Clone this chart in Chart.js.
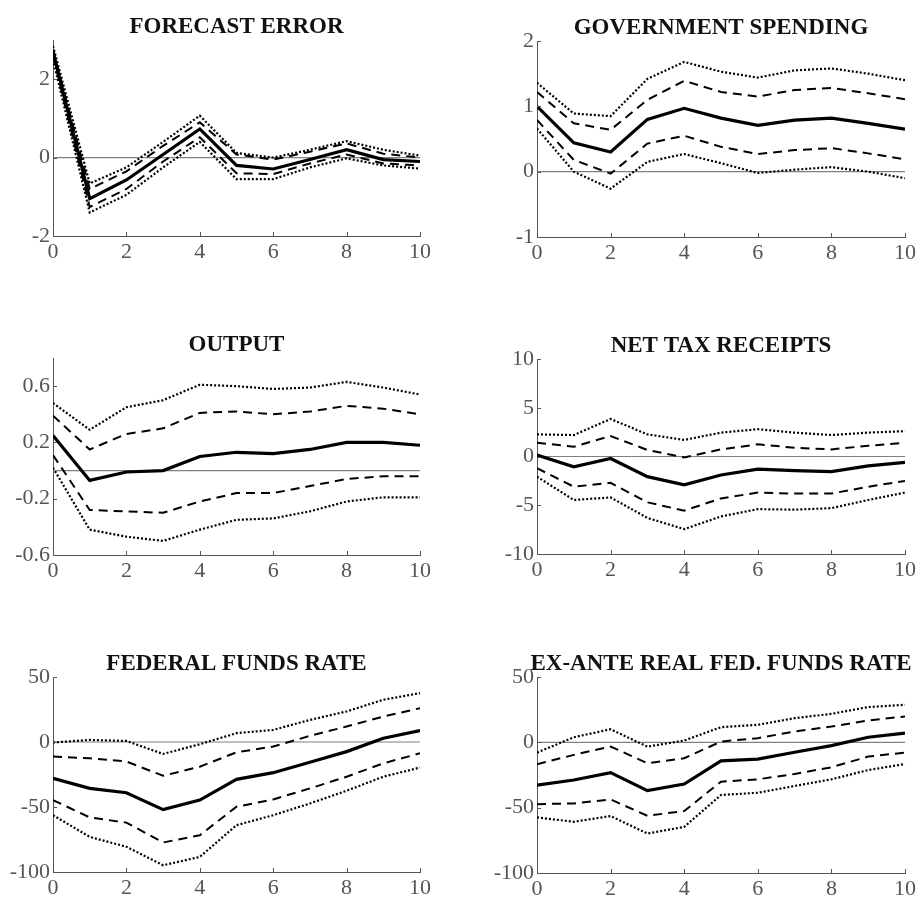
<!DOCTYPE html>
<html lang="en">

<head>
    <meta charset="UTF-8">
    <title>Impulse responses</title>
    <script src="https://cdn.jsdelivr.net/npm/chart.js"></script>
    <style>
        html, body { margin: 0; padding: 0; background: #fff; overflow: hidden; }
        .panel { position: absolute; }
    </style>
</head>

<body>
    <div class="panel" id="p1"><canvas id="c1"></canvas></div>
    <div class="panel" id="p2"><canvas id="c2"></canvas></div>
    <div class="panel" id="p3"><canvas id="c3"></canvas></div>
    <div class="panel" id="p4"><canvas id="c4"></canvas></div>
    <div class="panel" id="p5"><canvas id="c5"></canvas></div>
    <div class="panel" id="p6"><canvas id="c6"></canvas></div>
</body>
<script>

    // horizon (quarters)
    const HORIZON = [0, 1, 2, 3, 4, 5, 6, 7, 8, 9, 10];
    const X_TICKS = [0, 2, 4, 6, 8, 10];

    // forecast error
    const FE_MID = [2.7, -1.05, -0.57, 0.08, 0.73, -0.2, -0.29, -0.05, 0.2, -0.05, -0.1];
    const FE_HI = [2.75, -0.8, -0.35, 0.3, 0.9, 0.08, -0.05, 0.15, 0.36, 0.1, 0.0];
    const FE_LO = [2.6, -1.26, -0.8, -0.1, 0.52, -0.4, -0.42, -0.15, 0.08, -0.15, -0.2];
    const FE_HI2 = [2.85, -0.66, -0.25, 0.4, 1.07, 0.12, 0.0, 0.2, 0.42, 0.2, 0.05];
    const FE_LO2 = [2.5, -1.4, -0.95, -0.25, 0.4, -0.55, -0.55, -0.25, -0.02, -0.2, -0.28];

    // government spending
    const GS_MID = [1.0, 0.44, 0.3, 0.8, 0.97, 0.82, 0.71, 0.79, 0.82, 0.74, 0.65];
    const GS_HI = [1.22, 0.74, 0.64, 1.1, 1.39, 1.22, 1.15, 1.25, 1.28, 1.2, 1.11];
    const GS_LO = [0.79, 0.18, -0.03, 0.43, 0.55, 0.38, 0.27, 0.33, 0.36, 0.28, 0.19];
    const GS_HI2 = [1.36, 0.89, 0.85, 1.42, 1.68, 1.53, 1.44, 1.55, 1.58, 1.5, 1.4];
    const GS_LO2 = [0.66, 0.0, -0.26, 0.15, 0.27, 0.13, -0.02, 0.03, 0.07, 0.0, -0.1];

    // output
    const OUT_MID = [0.25, -0.07, -0.01, 0.0, 0.1, 0.13, 0.12, 0.15, 0.2, 0.2, 0.18];
    const OUT_HI = [0.39, 0.15, 0.26, 0.3, 0.41, 0.42, 0.4, 0.42, 0.46, 0.44, 0.4];
    const OUT_LO = [0.11, -0.28, -0.29, -0.3, -0.22, -0.16, -0.16, -0.11, -0.06, -0.04, -0.04];
    const OUT_HI2 = [0.48, 0.29, 0.45, 0.5, 0.61, 0.6, 0.58, 0.59, 0.63, 0.59, 0.54];
    const OUT_LO2 = [0.02, -0.42, -0.47, -0.5, -0.42, -0.35, -0.34, -0.29, -0.22, -0.19, -0.19];

    // net tax receipts
    const TAX_MID = [0.15, -1.05, -0.2, -2.07, -2.9, -1.9, -1.3, -1.45, -1.55, -0.97, -0.6];
    const TAX_HI = [1.42, 1.0, 2.1, 0.67, -0.1, 0.73, 1.25, 0.9, 0.73, 1.1, 1.42];
    const TAX_LO = [-1.2, -3.1, -2.7, -4.7, -5.55, -4.3, -3.7, -3.8, -3.8, -3.1, -2.5];
    const TAX_HI2 = [2.27, 2.2, 3.85, 2.27, 1.7, 2.45, 2.8, 2.45, 2.2, 2.45, 2.6];
    const TAX_LO2 = [-2.07, -4.46, -4.2, -6.3, -7.45, -6.15, -5.4, -5.45, -5.3, -4.46, -3.7];

    // federal funds rate
    const FFR_MID = [-28, -35.7, -39, -52, -44.7, -28.7, -23.6, -15.6, -7.4, 2.9, 8.8];
    const FFR_HI = [-11.2, -12.5, -15, -26, -19, -7.9, -3.5, 4.7, 11.9, 19.6, 26];
    const FFR_LO = [-44.7, -58, -62, -77.3, -71.7, -49.8, -44.2, -35.7, -26.7, -16.4, -8.7];
    const FFR_HI2 = [-0.4, 1.6, 0.8, -9.2, -1.7, 6.8, 9.3, 17, 23.5, 32.5, 37.6];
    const FFR_LO2 = [-56.3, -73, -80.6, -94.8, -88.4, -64, -56.3, -47.3, -37.5, -26.7, -19.7];

    // ex-ante real federal funds rate
    const RFF_MID = [-32.7, -28.8, -23.2, -37, -31.9, -14.2, -12.9, -7.6, -2.5, 3.9, 7];
    const RFF_HI = [-16.8, -9.6, -3.2, -16, -12.2, 0.6, 3.2, 8.3, 12.1, 16.7, 19.8];
    const RFF_LO = [-47.3, -46.8, -43.7, -56.2, -52.6, -30.1, -28.3, -24.2, -19.1, -10.9, -7.9];
    const RFF_HI2 = [-7.9, 3.9, 10, -3.3, 1.4, 11.6, 13.4, 18.5, 21.8, 27, 28.7];
    const RFF_LO2 = [-57.5, -60.8, -56.4, -69.8, -64.7, -40.3, -38.6, -33.4, -28.3, -21.2, -16.6];

    const TITLES = [
        'FORECAST ERROR',
        'GOVERNMENT SPENDING',
        'OUTPUT',
        'NET TAX RECEIPTS',
        'FEDERAL FUNDS RATE',
        'EX-ANTE REAL FED. FUNDS RATE'
    ];

    const Y_TICKS = [
        [-2, 0, 2],
        [-1, 0, 1, 2],
        [-0.6, -0.2, 0.2, 0.6],
        [-10, -5, 0, 5, 10],
        [-100, -50, 0, 50],
        [-100, -50, 0, 50]
    ];
    const Y_RANGE = [[-2, 3], [-1, 2], [-0.6, 0.8], [-10, 10], [-100, 50], [-100, 50]];

    const SERIES = [
        [FE_MID, FE_HI, FE_LO, FE_HI2, FE_LO2],
        [GS_MID, GS_HI, GS_LO, GS_HI2, GS_LO2],
        [OUT_MID, OUT_HI, OUT_LO, OUT_HI2, OUT_LO2],
        [TAX_MID, TAX_HI, TAX_LO, TAX_HI2, TAX_LO2],
        [FFR_MID, FFR_HI, FFR_LO, FFR_HI2, FFR_LO2],
        [RFF_MID, RFF_HI, RFF_LO, RFF_HI2, RFF_LO2]
    ];

    // plot boxes [left, top, right, bottom] in page pixels
    const BOXES = [
        [53, 40, 420, 236],
        [537, 41, 905, 237],
        [53, 358, 420, 555],
        [537, 359, 905, 554],
        [53, 677, 420, 872],
        [537, 677, 905, 873]
    ];

    const AXIS_W = 55, TOP_H = 45, BOTTOM_H = 32, RIGHT_PAD = 15;
    const GREY = '#555555';

    // solid, dashed, dotted
    const STYLES = [
        { width: 3.2, dash: [] },
        { width: 2, dash: [9, 6] },
        { width: 2, dash: [9, 6] },
        { width: 2.2, dash: [2, 2] },
        { width: 2.2, dash: [2, 2] }
    ];

    // zero line, inward ticks and title above the plot
    const matlabLook = {
        id: 'matlabLook',
        beforeDatasetsDraw(chart) {
            const { ctx, chartArea, scales } = chart;
            const y0 = scales.y.getPixelForValue(0);
            ctx.save();
            ctx.strokeStyle = '#808080';
            ctx.lineWidth = 1.2;
            ctx.beginPath();
            ctx.moveTo(chartArea.left, y0);
            ctx.lineTo(chartArea.right, y0);
            ctx.stroke();
            ctx.restore();
        },
        afterDraw(chart, args, opts) {
            const { ctx, chartArea, scales } = chart;
            ctx.save();
            ctx.strokeStyle = GREY;
            ctx.lineWidth = 1;
            ctx.beginPath();
            X_TICKS.forEach(v => {
                const px = Math.round(scales.x.getPixelForValue(v)) + 0.5;
                ctx.moveTo(px, chartArea.bottom);
                ctx.lineTo(px, chartArea.bottom - 4);
            });
            scales.y.ticks.forEach(t => {
                const py = Math.round(scales.y.getPixelForValue(t.value)) + 0.5;
                ctx.moveTo(chartArea.left, py);
                ctx.lineTo(chartArea.left + 4, py);
            });
            ctx.stroke();

            ctx.fillStyle = '#111';
            ctx.font = 'bold 23px "Liberation Serif", "Times New Roman", serif';
            ctx.textAlign = 'center';
            ctx.textBaseline = 'alphabetic';
            ctx.fillText(opts.text, (chartArea.left + chartArea.right) / 2, chartArea.top - 7);
            ctx.restore();
        }
    };

    function makePanel(i) {
        const [l, t, r, b] = BOXES[i];
        const w = (r - l) + AXIS_W + RIGHT_PAD;
        const h = (b - t) + TOP_H + BOTTOM_H;
        const div = document.getElementById('p' + (i + 1));
        div.style.left = (l - AXIS_W) + 'px';
        div.style.top = (t - TOP_H) + 'px';
        const canvas = document.getElementById('c' + (i + 1));
        canvas.width = w;
        canvas.height = h;

        const datasets = SERIES[i].map((vals, k) => ({
            data: HORIZON.map((hz, j) => ({ x: hz, y: vals[j] })),
            borderColor: '#000',
            borderWidth: STYLES[k].width,
            borderDash: STYLES[k].dash,
            pointRadius: 0,
            tension: 0,
            fill: false
        }));

        const tickFont = { family: '"Liberation Serif", "Times New Roman", serif', size: 22 };

        return new Chart(canvas, {
            type: 'line',
            data: { datasets: datasets },
            options: {
                responsive: false,
                animation: false,
                devicePixelRatio: 1,
                layout: { padding: { left: 0, right: RIGHT_PAD, top: TOP_H, bottom: 0 } },
                plugins: {
                    legend: { display: false },
                    tooltip: { enabled: false },
                    matlabLook: { text: TITLES[i] }
                },
                scales: {
                    x: {
                        type: 'linear',
                        min: 0,
                        max: 10,
                        grid: { display: false, drawTicks: false },
                        border: { display: true, color: GREY, width: 1 },
                        afterBuildTicks: s => { s.ticks = X_TICKS.map(v => ({ value: v })); },
                        afterFit: s => { s.height = BOTTOM_H; },
                        ticks: { color: GREY, font: tickFont, padding: 3, maxRotation: 0 }
                    },
                    y: {
                        min: Y_RANGE[i][0],
                        max: Y_RANGE[i][1],
                        grid: { display: false, drawTicks: false },
                        border: { display: true, color: GREY, width: 1 },
                        afterBuildTicks: s => { s.ticks = Y_TICKS[i].map(v => ({ value: v })); },
                        afterFit: s => { s.width = AXIS_W; },
                        ticks: { color: GREY, font: tickFont, padding: 3 }
                    }
                }
            },
            plugins: [matlabLook]
        });
    }

    const charts = TITLES.map((t, i) => makePanel(i));
</script>

</html>
